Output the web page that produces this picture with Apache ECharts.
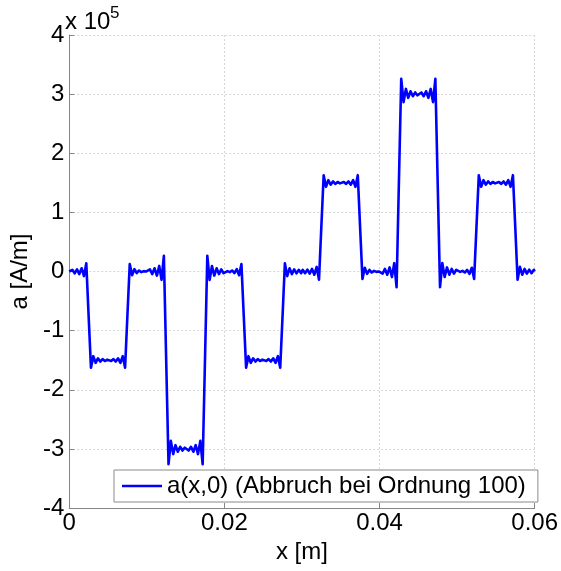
<!DOCTYPE html>
<html>
<head>
<meta charset="utf-8">
<script src="https://cdn.jsdelivr.net/npm/echarts@6/dist/echarts.min.js"></script>
<style>
  html, body { margin: 0; padding: 0; background: #ffffff; }
  #chart { width: 561px; height: 571px; }
</style>
</head>
<body>
<div id="chart"></div>
<script>
// Sample positions along x, in millimetres (one line per constant-level section)
const xMM = [
  0, 0.1, 0.4, 0.7, 1.0, 1.3, 1.6, 1.9, 2.2,
  2.5, 2.8, 3.1, 3.4, 3.7, 4.0, 4.3, 4.6, 4.9, 5.1, 5.4, 5.7, 6.0, 6.3, 6.6, 6.9, 7.2,
  7.5, 7.8, 8.1, 8.4, 8.7, 9.0, 9.3, 9.6, 9.9, 10.1, 10.4, 10.7, 11.0, 11.3, 11.6, 11.9, 12.2,
  12.5, 12.8, 13.1, 13.4, 13.7, 14.0, 14.3, 14.6, 14.9, 15.1, 15.4, 15.7, 16.0, 16.3, 16.6, 16.9, 17.2,
  17.5, 17.8, 18.1, 18.4, 18.7, 19.0, 19.3, 19.6, 19.9, 20.1, 20.4, 20.7, 21.0, 21.3, 21.6, 21.9, 22.2,
  22.5, 22.8, 23.1, 23.4, 23.7, 24.0, 24.3, 24.6, 24.9, 25.1, 25.4, 25.7, 26.0, 26.3, 26.6, 26.9, 27.2,
  27.5, 27.8, 28.1, 28.4, 28.7, 29.0, 29.3, 29.6, 29.9, 30.1, 30.4, 30.7, 31.0, 31.3, 31.6, 31.9, 32.2,
  32.5, 32.8, 33.1, 33.4, 33.7, 34.0, 34.3, 34.6, 34.9, 35.1, 35.4, 35.7, 36.0, 36.3, 36.6, 36.9, 37.2,
  37.5, 37.8, 38.1, 38.4, 38.7, 39.0, 39.3, 39.6, 39.9, 40.1, 40.4, 40.7, 41.0, 41.3, 41.6, 41.9, 42.2,
  42.5, 42.8, 43.1, 43.4, 43.7, 44.0, 44.3, 44.6, 44.9, 45.1, 45.4, 45.7, 46.0, 46.3, 46.6, 46.9, 47.2,
  47.5, 47.8, 48.1, 48.4, 48.7, 49.0, 49.3, 49.6, 49.9, 50.1, 50.4, 50.7, 51.0, 51.3, 51.6, 51.9, 52.2,
  52.5, 52.8, 53.1, 53.4, 53.7, 54.0, 54.3, 54.6, 54.9, 55.1, 55.4, 55.7, 56.0, 56.3, 56.6, 56.9, 57.2,
  57.5, 57.8, 58.1, 58.4, 58.7, 59.0, 59.3, 59.6, 59.9, 60.0
];

// a(x,0) in units of 10^5 A/m at the positions above
const aE5 = [
  0, -0.028, 0.029, -0.032, 0.037, -0.044, 0.055, -0.078, 0.139,
  -0.755, -1.629, -1.432, -1.544, -1.468, -1.524, -1.482, -1.514, -1.490, -1.490, -1.514, -1.482, -1.524, -1.468, -1.544, -1.432, -1.629,
  -0.741, 0.125, -0.062, 0.039, -0.026, 0.017, -0.011, 0.006, -0.001, -0.029, 0.035, -0.043, 0.054, -0.069, 0.094, -0.141, 0.264,
  -1.509, -3.259, -2.865, -3.088, -2.937, -3.048, -2.964, -3.028, -2.980, -2.980, -3.028, -2.964, -3.048, -2.937, -3.088, -2.865, -3.259,
  -1.496, 0.264, -0.141, 0.094, -0.069, 0.054, -0.043, 0.035, -0.029, -0.001, 0.006, -0.011, 0.017, -0.026, 0.039, -0.062, 0.125,
  -0.755, -1.629, -1.432, -1.544, -1.468, -1.524, -1.482, -1.514, -1.490, -1.490, -1.514, -1.482, -1.524, -1.468, -1.544, -1.432, -1.629,
  -0.755, 0.139, -0.078, 0.055, -0.044, 0.037, -0.032, 0.029, -0.028, 0.028, -0.029, 0.032, -0.037, 0.044, -0.055, 0.078, -0.139,
  0.755, 1.629, 1.432, 1.544, 1.468, 1.524, 1.482, 1.514, 1.490, 1.490, 1.514, 1.482, 1.524, 1.468, 1.544, 1.432, 1.629,
  0.741, -0.125, 0.062, -0.039, 0.026, -0.017, 0.011, -0.006, 0.001, 0.029, -0.035, 0.043, -0.054, 0.069, -0.094, 0.141, -0.264,
  1.509, 3.259, 2.865, 3.088, 2.937, 3.048, 2.964, 3.028, 2.980, 2.980, 3.028, 2.964, 3.048, 2.937, 3.088, 2.865, 3.259,
  1.496, -0.264, 0.141, -0.094, 0.069, -0.054, 0.043, -0.035, 0.029, 0.001, -0.006, 0.011, -0.017, 0.026, -0.039, 0.062, -0.125,
  0.755, 1.629, 1.432, 1.544, 1.468, 1.524, 1.482, 1.514, 1.490, 1.490, 1.514, 1.482, 1.524, 1.468, 1.544, 1.432, 1.629,
  0.755, -0.139, 0.078, -0.055, 0.044, -0.037, 0.032, -0.029, 0.028, 0
];

const xRange = [0, 0.06];
const xStep = 0.02;
const yRange = [-4, 4];
const yStep = 1;
const seriesName = 'a(x,0) (Abbruch bei Ordnung 100)';

const FONT = '"Liberation Sans", Arial, Helvetica, sans-serif';
const AXIS_GREY = '#858585';
const GRID_GREY = '#d6d6d6';

const points = xMM.map((x, i) => [x / 1000, aE5[i]]);

const chart = echarts.init(document.getElementById('chart'), null, { renderer: 'canvas' });

chart.setOption({
  animation: false,
  backgroundColor: '#ffffff',
  textStyle: { fontFamily: FONT, color: '#000' },
  grid: { left: 65, right: 22, top: 35, bottom: 63, containLabel: false },
  legend: {
    left: 114,
    top: 470,
    padding: [4, 12, 4, 8],
    itemWidth: 40,
    itemHeight: 14,
    itemGap: 5,
    backgroundColor: '#ffffff',
    borderColor: '#8a8a8a',
    borderWidth: 1,
    borderRadius: 0,
    textStyle: { fontFamily: FONT, fontSize: 24, color: '#000' },
    data: [{ name: seriesName, icon: 'path://M0,0 L40,0 L40,2.4 L0,2.4 Z', itemStyle: { color: '#0000ff' } }]
  },
  xAxis: {
    type: 'value',
    min: xRange[0],
    max: xRange[1],
    interval: xStep,
    name: 'x [m]',
    nameLocation: 'middle',
    nameGap: 30,
    nameTextStyle: { fontFamily: FONT, fontSize: 24, color: '#000' },
    axisLine: { show: true, onZero: false, lineStyle: { color: AXIS_GREY, width: 1 } },
    axisTick: { show: true, inside: true, length: 5, lineStyle: { color: AXIS_GREY } },
    axisLabel: {
      fontFamily: FONT, fontSize: 24, color: '#000', margin: 3,
      formatter: v => String(Number(v.toFixed(2)))
    },
    splitLine: { show: true, lineStyle: { color: GRID_GREY, type: [2, 2], width: 1 } }
  },
  yAxis: {
    type: 'value',
    min: yRange[0],
    max: yRange[1],
    interval: yStep,
    name: 'a [A/m]',
    nameLocation: 'middle',
    nameGap: 31,
    nameRotate: 90,
    nameTextStyle: { fontFamily: FONT, fontSize: 24, color: '#000' },
    axisLine: { show: true, onZero: false, lineStyle: { color: AXIS_GREY, width: 1 } },
    axisTick: { show: true, inside: true, length: 5, lineStyle: { color: AXIS_GREY } },
    axisLabel: { fontFamily: FONT, fontSize: 24, color: '#000', margin: 5 },
    splitLine: { show: true, lineStyle: { color: GRID_GREY, type: [2, 2], width: 1 } }
  },
  graphic: [
    {
      type: 'text', left: 65, top: 10, silent: true,
      style: { text: 'x 10', font: '24px ' + FONT, fill: '#000' }
    },
    {
      type: 'text', left: 110, top: 5, silent: true,
      style: { text: '5', font: '17px ' + FONT, fill: '#000' }
    }
  ],
  series: [{
    name: seriesName,
    type: 'line',
    data: points,
    symbol: 'none',
    showSymbol: false,
    smooth: false,
    clip: true,
    lineStyle: { color: '#0000ff', width: 2.6, join: 'round' },
    itemStyle: { color: '#0000ff' },
    z: 3
  }]
});
</script>
</body>
</html>
